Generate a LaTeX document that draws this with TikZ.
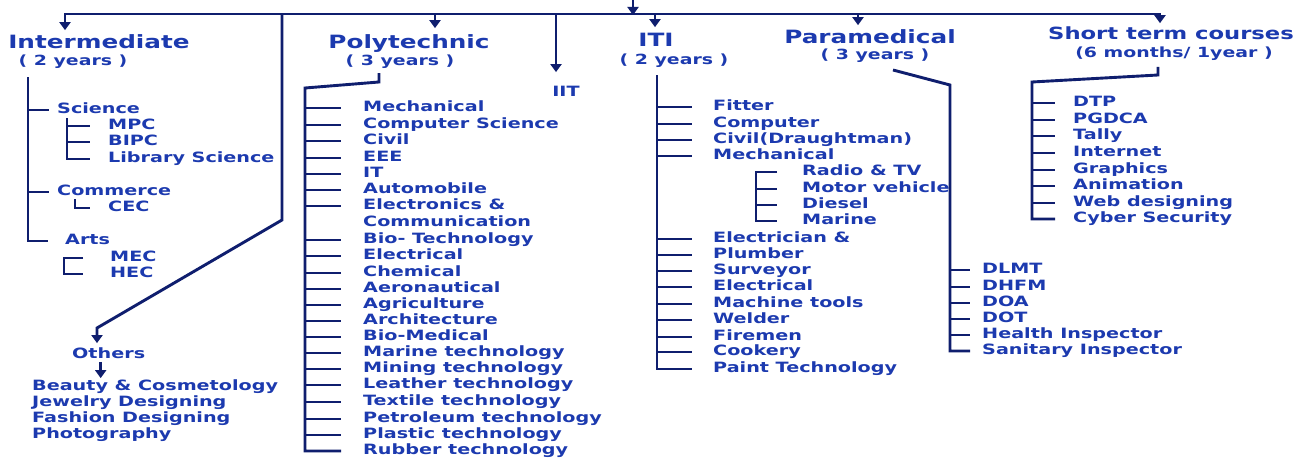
\documentclass[tikz,border=0pt]{standalone}
\usepackage{fontspec}
\setmainfont{DejaVu Sans}[FakeStretch=1.35]
\usetikzlibrary{arrows.meta}
\definecolor{txt}{RGB}{28,58,175}
\definecolor{lnc}{RGB}{15,30,110}
\newcommand\itemf{\fontsize{14.2}{16}\selectfont\bfseries}
\newcommand\titlef{\fontsize{18.3}{20}\selectfont\bfseries}
\newcommand\shortf{\fontsize{16.8}{19}\selectfont\bfseries}
\newcommand\subf{\fontsize{14}{16}\selectfont\bfseries}
\begin{document}
\begin{tikzpicture}[x=1pt,y=-1pt,
  item/.style={anchor=west,inner sep=0pt,font=\itemf,text=txt,text height=10.4pt,text depth=3pt},
  ttl/.style={inner sep=0pt,font=\titlef,text=txt,text height=13.4pt,text depth=3.9pt},
  sub/.style={inner sep=0pt,font=\subf,text=txt,text height=10.3pt,text depth=3pt},
  ln/.style={draw=lnc,line width=2.9pt,line join=miter},
  arr/.style={ln,-{Triangle[width=11pt,length=8pt]}}]
\fill[white] (0,0) rectangle (1303,460);
\useasboundingbox (0,0) rectangle (1303,460);

% ---------- titles ----------
\node[ttl] (inter) at (99,44) {Intermediate};
\node[sub] (interY) at (73,62) {( 2 years )};
\node[ttl] (poly) at (409,44) {Polytechnic};
\node[sub] (polyY) at (400,62) {( 3 years )};
\node[item,anchor=center] (iit) at (566,93) {IIT};
\node[ttl] (iti) at (656,42) {ITI};
\node[sub] (itiY) at (674,61) {( 2 years )};
\node[ttl] (para) at (870,39) {Paramedical};
\node[sub] (paraY) at (875,56) {( 3 years )};
\node[ttl,font=\shortf] (short) at (1171,35) {Short term courses};
\node[sub] (shortY) at (1174,54) {(6 months/ 1year )};

% ---------- top bus ----------
\coordinate (tin) at (633,0);
\coordinate (b0) at (633,15);
\coordinate (bL) at (65,14);
\coordinate (bR) at (1160,14);
\coordinate (b1) at (282,14);
\coordinate (b2) at (435,14);
\coordinate (b3) at (556,14);
\coordinate (b4) at (655,14);
\coordinate (b5) at (858,14);
\draw[arr] (tin) -- (b0);
\draw[arr,shorten >=5pt] (b3) -- (bL) -- (bL |- inter.north);
\draw[arr,shorten >=3pt] (b3) -- (bR) -- (bR |- short.north);
\draw[arr,shorten >=7pt] (b2) -- (b2 |- poly.north);
\draw[arr,shorten >=14pt] (b3) -- (b3 |- iit.north);
\draw[arr,shorten >=6pt] (b4) -- (b4 |- iti.north);
\draw[arr,shorten >=5pt] (b5) -- (b5 |- para.north);

% ---------- Intermediate ----------
\node[item] (sci) at (57,110) {Science};
\node[item] (mpc) at (108,126) {MPC};
\node[item] (bipc) at (108,142) {BIPC};
\node[item] (lib) at (108,159) {Library Science};
\node[item] (com) at (57,192) {Commerce};
\node[item] (cec) at (108,208) {CEC};
\node[item] (arts) at (65,241) {Arts};
\node[item] (mec) at (110,258) {MEC};
\node[item] (hec) at (110,274) {HEC};
\coordinate (iS) at (28,77);
\draw[ln] (iS) -- (iS |- arts.west) -- ([xshift=-17pt]arts.west);
\foreach \n in {sci,com} \draw[ln] (iS |- \n.west) -- ([xshift=-8pt]\n.west);
\coordinate (sB) at (67,118);
\draw[ln] (sB) -- (sB |- lib.west) -- ([xshift=-18pt]lib.west);
\foreach \n in {mpc,bipc} \draw[ln] (sB |- \n.west) -- ([xshift=-18pt]\n.west);
\coordinate (cB) at (75,199);
\draw[ln] (cB) -- (cB |- cec.west) -- ([xshift=-18pt]cec.west);
\coordinate (aB) at (64,258);
\draw[ln] ([xshift=-27pt]mec.west) -- (aB |- mec.west) -- (aB |- hec.west) -- ([xshift=-27pt]hec.west);

% ---------- Others ----------
\node[item] (oth) at (72,355) {Others};
\foreach \y/\t [count=\i] in {387/Beauty \& Cosmetology,403/Jewelry Designing,419/Fashion Designing,435/Photography}
  \node[item] (o\i) at (32,\y) {\t};
\coordinate (ibend) at (282,220);
\coordinate (oin) at (97,328);
\draw[arr,shorten >=5pt] (b1) -- (ibend) -- (oin) -- (oin |- oth.north);
\draw[arr,shorten >=2pt] ([xshift=-8pt]oth.south) -- ([xshift=-8pt]oth.south |- o1.north);

% ---------- Polytechnic ----------
\foreach \y/\t [count=\i] in {108/Mechanical,125/Computer Science,141/Civil,158/EEE,174/IT,190/Automobile,206/Electronics \&,240/Bio- Technology,256/Electrical,273/Chemical,289/Aeronautical,305/Agriculture,321/Architecture,337/Bio-Medical,353/Marine technology,369/Mining technology,385/Leather technology,402/Textile technology,419/Petroleum technology,435/Plastic technology,451/Rubber technology}
  \node[item] (p\i) at (363,\y) {\t};
\node[item] (pc) at (363,223) {Communication};
\coordinate (pA) at (379,73);
\coordinate (pB) at (379,82);
\coordinate (pS) at (305,88);
\draw[ln] (pA) -- (pB) -- (pS) -- (pS |- p21.west) -- ([xshift=-22pt]p21.west);
\foreach \i in {1,...,20} \draw[ln] (pS |- p\i.west) -- ([xshift=-22pt]p\i.west);

% ---------- ITI ----------
\foreach \y/\t [count=\i] in {107/Fitter,124/Computer,140/Civil(Draughtman),156/Mechanical,239/Electrician \&,255/Plumber,271/Surveyor,287/Electrical,304/Machine tools,320/Welder,337/Firemen,352/Cookery,369/Paint Technology}
  \node[item] (t\i) at (713,\y) {\t};
\coordinate (tS) at (657,75);
\draw[ln] (tS) -- (tS |- t13.west) -- ([xshift=-21pt]t13.west);
\foreach \i in {1,...,12} \draw[ln] (tS |- t\i.west) -- ([xshift=-21pt]t\i.west);
\foreach \y/\t [count=\i] in {172/Radio \& TV,189/Motor vehicle,205/Diesel,221/Marine}
  \node[item] (m\i) at (802,\y) {\t};
\coordinate (mB) at (756,172);
\draw[ln] ([xshift=-25pt]m1.west) -- (mB |- m1.west) -- (mB |- m4.west) -- ([xshift=-25pt]m4.west);
\foreach \i in {2,3} \draw[ln] (mB |- m\i.west) -- ([xshift=-25pt]m\i.west);

% ---------- Paramedical ----------
\foreach \y/\t [count=\i] in {270/DLMT,287/DHFM,303/DOA,319/DOT,335/Health Inspector,351/Sanitary Inspector}
  \node[item] (q\i) at (982,\y) {\t};
\coordinate (qA) at (893,70);
\coordinate (qS) at (950,85);
\draw[ln] (qA) -- (qS) -- (qS |- q6.west) -- ([xshift=-12pt]q6.west);
\foreach \i in {1,...,5} \draw[ln] (qS |- q\i.west) -- ([xshift=-12pt]q\i.west);

% ---------- Short term ----------
\foreach \y/\t [count=\i] in {103/DTP,120/PGDCA,136/Tally,153/Internet,170/Graphics,186/Animation,203/Web designing,219/Cyber Security}
  \node[item] (s\i) at (1073,\y) {\t};
\coordinate (sA) at (1158,67);
\coordinate (sB2) at (1158,75);
\coordinate (sS) at (1032,82);
\draw[ln] (sA) -- (sB2) -- (sS) -- (sS |- s8.west) -- ([xshift=-18pt]s8.west);
\foreach \i in {1,...,7} \draw[ln] (sS |- s\i.west) -- ([xshift=-18pt]s\i.west);
\end{tikzpicture}
\end{document}
